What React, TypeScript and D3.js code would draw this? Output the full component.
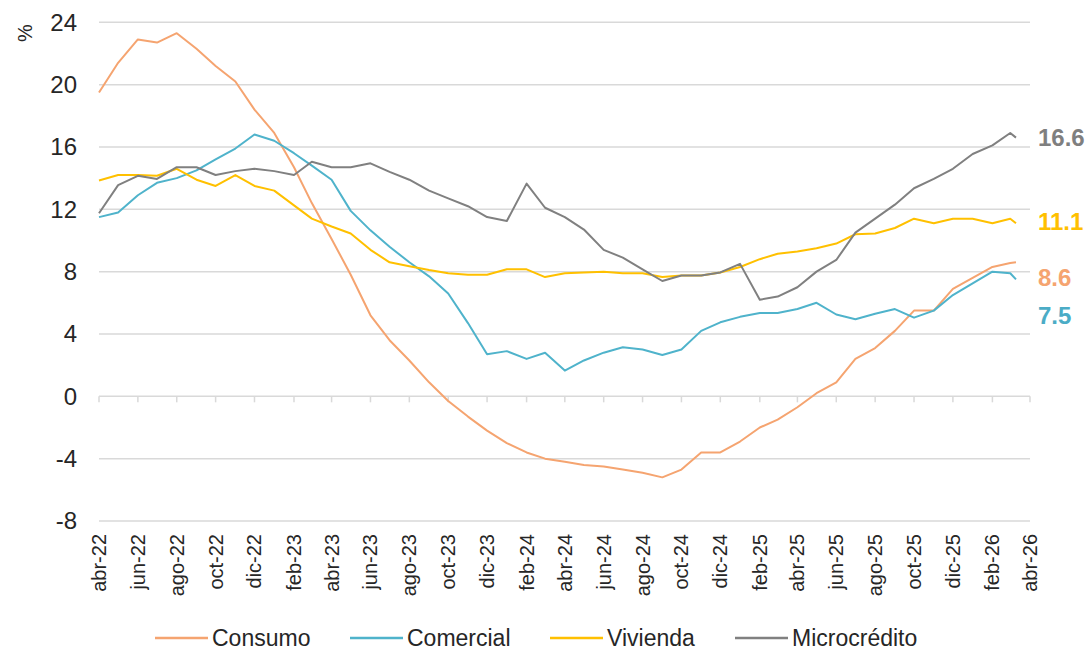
import React from 'react';
import * as d3 from 'd3';

// etiquetas del eje x (cada dos meses)
const tickLabels = [
  'abr-22', 'jun-22', 'ago-22', 'oct-22', 'dic-22', 'feb-23', 'abr-23', 'jun-23', 'ago-23',
  'oct-23', 'dic-23', 'feb-24', 'abr-24', 'jun-24', 'ago-24', 'oct-24', 'dic-24', 'feb-25',
  'abr-25', 'jun-25', 'ago-25', 'oct-25', 'dic-25', 'feb-26', 'abr-26',
];
const yTicks = [-8, -4, 0, 4, 8, 12, 16, 20, 24];

// fechas: mensual abr-22 .. mar-26 más el último dato parcial de marzo
const dates: Date[] = [
  ...d3.timeMonth.range(new Date(2022, 3, 1), new Date(2026, 3, 1)),
  new Date(2026, 2, 10),
];

const consumo = [
  19.5, 21.4, 22.9, 22.7, 23.3, 22.3, 21.2, 20.2, 18.4, 16.9,
  14.7, 12.4, 10.1, 7.8, 5.2, 3.6, 2.3, 0.9, -0.3, -1.3,
  -2.2, -3.0, -3.6, -4.0, -4.2, -4.4, -4.5, -4.7, -4.9, -5.2,
  -4.7, -3.6, -3.6, -2.9, -2.0, -1.5, -0.7, 0.2, 0.9, 2.4,
  3.1, 4.2, 5.5, 5.5, 6.9, 7.6, 8.3, 8.55, 8.6,
];
const comercial = [
  11.5, 11.8, 12.9, 13.7, 14.0, 14.5, 15.2, 15.9, 16.8, 16.4,
  15.6, 14.8, 13.9, 11.9, 10.65, 9.6, 8.6, 7.7, 6.6, 4.7,
  2.7, 2.9, 2.4, 2.8, 1.65, 2.3, 2.8, 3.15, 3.0, 2.65,
  3.0, 4.2, 4.75, 5.1, 5.35, 5.35, 5.6, 6.0, 5.25, 4.95,
  5.3, 5.6, 5.05, 5.5, 6.5, 7.25, 8.0, 7.9, 7.5,
];
const vivienda = [
  13.85, 14.2, 14.2, 14.15, 14.6, 13.9, 13.5, 14.2, 13.5, 13.2,
  12.25, 11.4, 10.9, 10.45, 9.4, 8.6, 8.35, 8.1, 7.9, 7.8,
  7.8, 8.15, 8.15, 7.65, 7.9, 7.95, 8.0, 7.9, 7.9, 7.65,
  7.75, 7.75, 7.95, 8.3, 8.8, 9.15, 9.3, 9.5, 9.8, 10.4,
  10.45, 10.8, 11.4, 11.1, 11.4, 11.4, 11.1, 11.4, 11.1,
];
const microcredito = [
  11.75, 13.55, 14.15, 13.95, 14.7, 14.7, 14.2, 14.45, 14.6, 14.45,
  14.2, 15.05, 14.7, 14.7, 14.95, 14.4, 13.9, 13.2, 12.7, 12.2,
  11.5, 11.25, 13.65, 12.1, 11.5, 10.7, 9.4, 8.9, 8.15, 7.4,
  7.75, 7.75, 7.95, 8.5, 6.2, 6.4, 7.0, 8.0, 8.75, 10.5,
  11.4, 12.3, 13.35, 13.95, 14.6, 15.55, 16.1, 16.9, 16.6,
];

const seriesNames = ['Consumo', 'Comercial', 'Vivienda', 'Microcrédito'];
const seriesValues = [consumo, comercial, vivienda, microcredito];
const lastLabels = ['8.6', '7.5', '11.1', '16.6'];

const colors = ['#F5A470', '#4FB3CB', '#FFC000', '#808080'];
const labelColors = ['#F5A470', '#4BACC6', '#FFC000', '#7F7F7F'];
const labelNudge = [15, 36, -2, 0];
const legendX = [155, 350, 550, 735];

const W = 1089;
const H = 651;
const left = 99;
const right = 1030;
const font = '"Liberation Sans", Arial, sans-serif';
const textColor = '#262626';

export default function App() {
  const x = d3.scaleTime()
    .domain([new Date(2022, 3, 1), new Date(2026, 3, 1)])
    .range([left, right]);
  const y = d3.scaleLinear().domain([-8, 24]).range([521, 22.3]);
  const tickDates = d3.timeMonth.range(new Date(2022, 3, 1), new Date(2026, 3, 2), 2);

  const line = d3.line<number>()
    .x((_, i) => x(dates[i]))
    .y(d => y(d));

  return (
    <svg width={W} height={H} style={{ position: 'absolute', left: 0, top: 0, fontFamily: font }}>
      <rect width={W} height={H} fill="#fff" />
      {yTicks.map(t => (
        <g key={t}>
          <line x1={left} x2={right} y1={y(t)} y2={y(t)} stroke="#d9d9d9" strokeWidth={1.5} />
          <text x={77} y={y(t)} dy="0.35em" textAnchor="end" fontSize={24} fill={textColor}>{t}</text>
        </g>
      ))}
      <text transform="translate(25,33) rotate(-90)" textAnchor="middle" dy="0.35em" fontSize={20} fill={textColor}>%</text>

      {tickDates.map((d, i) => (
        <g key={i}>
          <line x1={x(d)} x2={x(d)} y1={y(0)} y2={y(0) + 6} stroke="#d9d9d9" strokeWidth={1.5} />
          <text
            transform={`translate(${x(d)},534) rotate(-90)`}
            textAnchor="end"
            dy="0.35em"
            fontSize={20}
            fill={textColor}
          >
            {tickLabels[i]}
          </text>
        </g>
      ))}

      {seriesValues.map((vals, s) => (
        <path key={s} d={line(vals) ?? ''} fill="none" stroke={colors[s]} strokeWidth={2} strokeLinejoin="round" />
      ))}

      {seriesValues.map((vals, s) => (
        <text
          key={s}
          x={1038}
          y={y(vals[vals.length - 1]) + labelNudge[s]}
          dy="0.35em"
          fontSize={24}
          fontWeight="bold"
          fill={labelColors[s]}
        >
          {lastLabels[s]}
        </text>
      ))}

      {seriesNames.map((name, s) => (
        <g key={name} transform={`translate(${legendX[s]},638)`}>
          <line x1={0} x2={53} y1={0} y2={0} stroke={colors[s]} strokeWidth={2.5} />
          <text x={57} dy="0.35em" fontSize={23} fill={textColor}>{name}</text>
        </g>
      ))}
    </svg>
  );
}
